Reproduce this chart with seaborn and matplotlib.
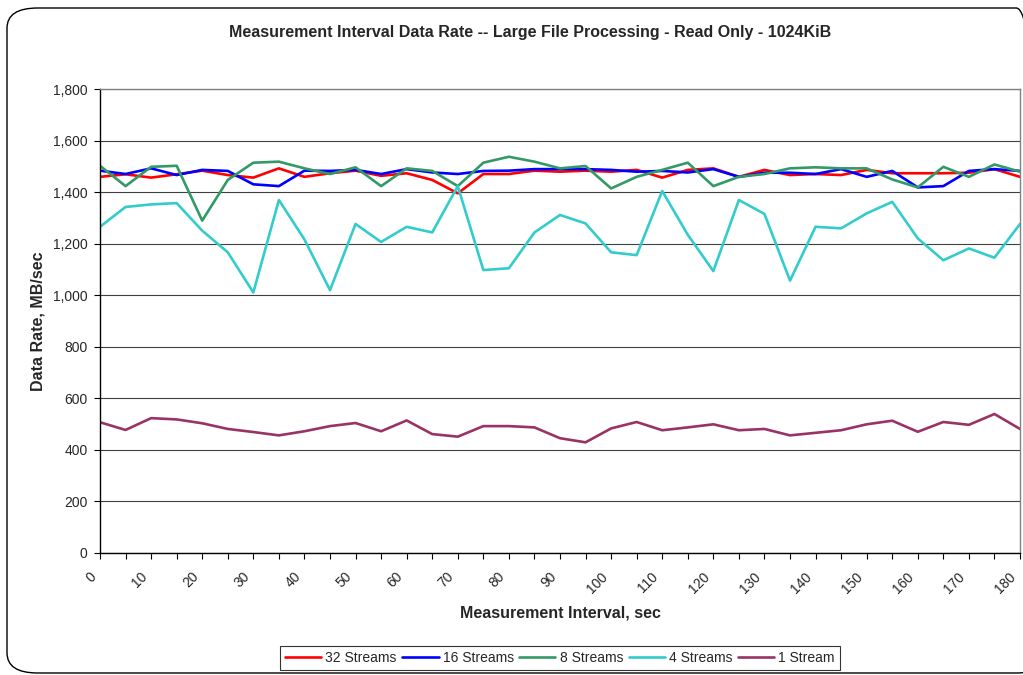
import numpy as np
import pandas as pd
import matplotlib
matplotlib.use("Agg")
import matplotlib.pyplot as plt
import matplotlib.transforms as mtransforms
import seaborn as sns
from matplotlib.patches import FancyBboxPatch
from matplotlib.ticker import MultipleLocator, FuncFormatter

# measurement interval, sec (one sample every 5 sec)
interval = list(range(0, 181, 5))

streams_32 = [1460, 1470, 1457, 1470, 1484, 1467, 1457, 1493, 1460, 1474,
              1484, 1464, 1474, 1448, 1396, 1471, 1471, 1484, 1480, 1484,
              1480, 1487, 1457, 1487, 1493, 1460, 1487, 1467, 1471, 1467,
              1487, 1474, 1474, 1474, 1476, 1490, 1460]
streams_16 = [1484, 1471, 1493, 1467, 1487, 1483, 1431, 1424, 1484, 1483,
              1487, 1471, 1490, 1477, 1471, 1483, 1484, 1490, 1490, 1490,
              1487, 1480, 1483, 1477, 1490, 1460, 1476, 1476, 1471, 1490,
              1460, 1483, 1419, 1424, 1483, 1490, 1483]
streams_8 = [1503, 1424, 1499, 1503, 1290, 1448, 1515, 1519, 1493, 1471,
             1497, 1424, 1493, 1483, 1424, 1515, 1538, 1519, 1493, 1502,
             1415, 1460, 1487, 1515, 1424, 1460, 1471, 1493, 1497, 1493,
             1493, 1450, 1419, 1499, 1460, 1508, 1480]
streams_4 = [1266, 1343, 1353, 1358, 1251, 1167, 1011, 1370, 1217, 1020,
             1277, 1207, 1266, 1244, 1424, 1098, 1105, 1244, 1312, 1279,
             1167, 1156, 1405, 1235, 1094, 1370, 1316, 1057, 1266, 1260,
             1318, 1363, 1221, 1136, 1182, 1146, 1277]
stream_1 = [507, 477, 523, 518, 503, 481, 469, 456, 472, 492,
            504, 472, 514, 461, 451, 492, 492, 487, 445, 429,
            483, 508, 476, 487, 499, 476, 481, 456, 466, 476,
            499, 513, 470, 508, 497, 539, 481]

series_names = ["32 Streams", "16 Streams", "8 Streams", "4 Streams", "1 Stream"]
series_values = [streams_32, streams_16, streams_8, streams_4, stream_1]
colors = ["#FF0000", "#0000FF", "#339966", "#33CCCC", "#993366"]

rows = []
for name, vals in zip(series_names, series_values):
    for x, v in zip(interval, vals):
        rows.append({"interval": x, "rate": v, "series": name})
df = pd.DataFrame(rows)

sns.set_style("white")
plt.rcParams["font.family"] = ["Liberation Sans", "DejaVu Sans"]

fig = plt.figure(figsize=(10.23, 6.75), dpi=100)
ax = fig.add_axes([100 / 1023, 1 - 552.8 / 675, 920 / 1023, (552.8 - 89.3) / 675])

sns.lineplot(data=df, x="interval", y="rate", hue="series", hue_order=series_names,
             palette=colors, linewidth=1.9, ax=ax, legend=True)

ax.set_xlim(0, 180)
ax.set_ylim(0, 1800)
ax.yaxis.set_major_locator(MultipleLocator(200))
ax.xaxis.set_major_locator(MultipleLocator(10))
ax.xaxis.set_minor_locator(MultipleLocator(5))
ax.yaxis.set_major_formatter(FuncFormatter(lambda v, p: f"{int(v):,}"))
ax.grid(axis="y", color="#404040", linewidth=0.8)
ax.set_axisbelow(True)

for s in ["top", "right"]:
    ax.spines[s].set_color("#808080")
    ax.spines[s].set_linewidth(1.0)
for s in ["left", "bottom"]:
    ax.spines[s].set_color("#000000")
    ax.spines[s].set_linewidth(1.0)

ax.tick_params(axis="both", which="both", direction="out", length=4, width=0.8,
               color="black", labelsize=10)
ax.tick_params(axis="x", which="both", bottom=True, pad=3)
ax.tick_params(axis="y", left=True, pad=5)

# rotated x labels, end of text just left/below the tick
shift = mtransforms.ScaledTranslation(-6 / 100, -12 / 100, fig.dpi_scale_trans)
for lab in ax.get_xticklabels():
    lab.set_rotation(45)
    lab.set_ha("right")
    lab.set_va("center")
    lab.set_rotation_mode("anchor")
    lab.set_transform(lab.get_transform() + shift)

ax.set_xlabel("Measurement Interval, sec", fontsize=11.5, fontweight="bold", labelpad=7)
ax.set_ylabel("Data Rate, MB/sec", fontsize=11.5, fontweight="bold", labelpad=5)

fig.text(530 / 1023, 1 - 33 / 675, "Measurement Interval Data Rate -- Large File Processing - Read Only - 1024KiB",
         ha="center", va="center", fontsize=11.5, fontweight="bold")

handles, labels = ax.get_legend_handles_labels()
ax.legend_.remove()
leg = fig.legend(handles, labels, loc="center", bbox_to_anchor=(560 / 1023, 1 - 658 / 675),
                 ncol=5, frameon=True, fancybox=False, fontsize=10, handlelength=2.6,
                 handletextpad=0.3, columnspacing=0.4, borderpad=0.35, borderaxespad=0)
leg.get_frame().set_edgecolor("black")
leg.get_frame().set_linewidth(0.8)

# rounded chart-area border
border = FancyBboxPatch((7 / 1023, 2 / 675), 1040 / 1023, 665 / 675,
                        boxstyle="round,pad=0,rounding_size=0.03",
                        transform=fig.transFigure, fill=False, edgecolor="black",
                        linewidth=1.0, zorder=-1)
fig.patches.append(border)

fig.savefig("out.png", dpi=100)
